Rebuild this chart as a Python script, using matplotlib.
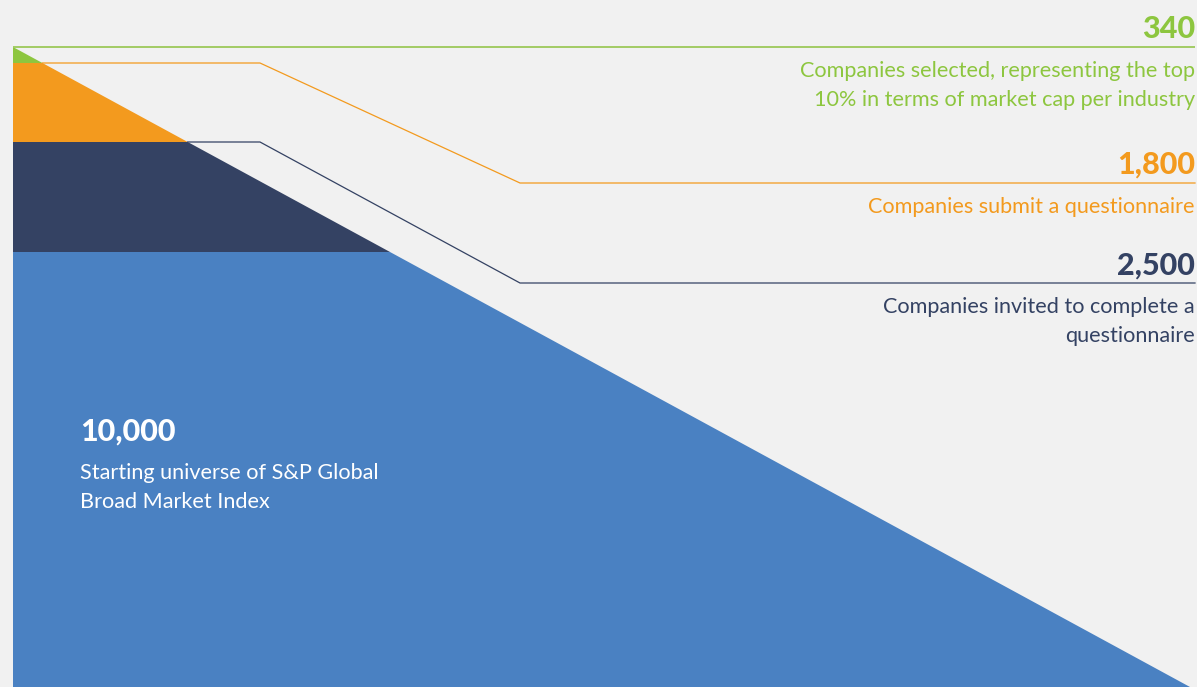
import matplotlib
matplotlib.use("Agg")
import matplotlib.pyplot as plt
from matplotlib.patches import Polygon

# ---- data ----
values = ["340", "1,800", "2,500", "10,000"]
descriptions = [
    "Companies selected, representing the top\n10% in terms of market cap per industry",
    "Companies submit a questionnaire",
    "Companies invited to complete a\nquestionnaire",
    "Starting universe of S&P Global\nBroad Market Index",
]
colors = ["#8DC63F", "#F39A1E", "#344263", "#4A81C2"]

# ---- layout (pixel units) ----
W, H = 1197, 687
BG = "#F1F1F1"
apex = (13, 47)
base_right = (1190, 687)
band_tops = [47, 63, 142, 252, 687]
label_line_y = [47, 183, 283]
bend_x0, bend_x1, right_x = 260, 520, 1195
num_baseline = [38, 174, 275, 441]
desc_y = [71, 207, 307, 473]
line_gap = 28.5

plt.rcParams['font.family'] = ['Lato', 'DejaVu Sans']

fig = plt.figure(figsize=(W / 100, H / 100), dpi=100, facecolor=BG)
ax = fig.add_axes([0, 0, 1, 1])
ax.set_xlim(0, W)
ax.set_ylim(H, 0)
ax.axis("off")
ax.set_facecolor(BG)


def edge(y):
    return apex[0] + (y - apex[1]) * (base_right[0] - apex[0]) / (base_right[1] - apex[1])


for i, c in enumerate(colors):
    yt, yb = band_tops[i], band_tops[i + 1]
    poly = Polygon([(apex[0], yt), (edge(yt), yt), (edge(yb), yb), (apex[0], yb)],
                   closed=True, facecolor=c, edgecolor="none", antialiased=True)
    ax.add_patch(poly)

# green top line
ax.plot([apex[0], right_x], [label_line_y[0], label_line_y[0]], color="#9CC95A", lw=1.3,
        solid_capstyle="butt")
# orange & navy connector lines
for i in (1, 2):
    ys = band_tops[i]
    yl = label_line_y[i]
    ax.plot([edge(ys), bend_x0, bend_x1, right_x], [ys, ys, yl, yl], color=colors[i], lw=0.9,
            solid_joinstyle="miter")

num_fs = 22
desc_fs = 15.6

for i in range(4):
    if i < 3:
        x, ha, col = right_x, "right", colors[i]
    else:
        x, ha, col = 80, "left", "white"
    ax.text(x, num_baseline[i], values[i], color=col, fontsize=num_fs, fontweight="black",
            ha=ha, va="baseline")
    for k, line in enumerate(descriptions[i].split("\n")):
        ax.text(x, desc_y[i] + k * line_gap, line, color=col, fontsize=desc_fs, ha=ha,
                va="center")

fig.savefig("out.png", dpi=100, facecolor=BG)
